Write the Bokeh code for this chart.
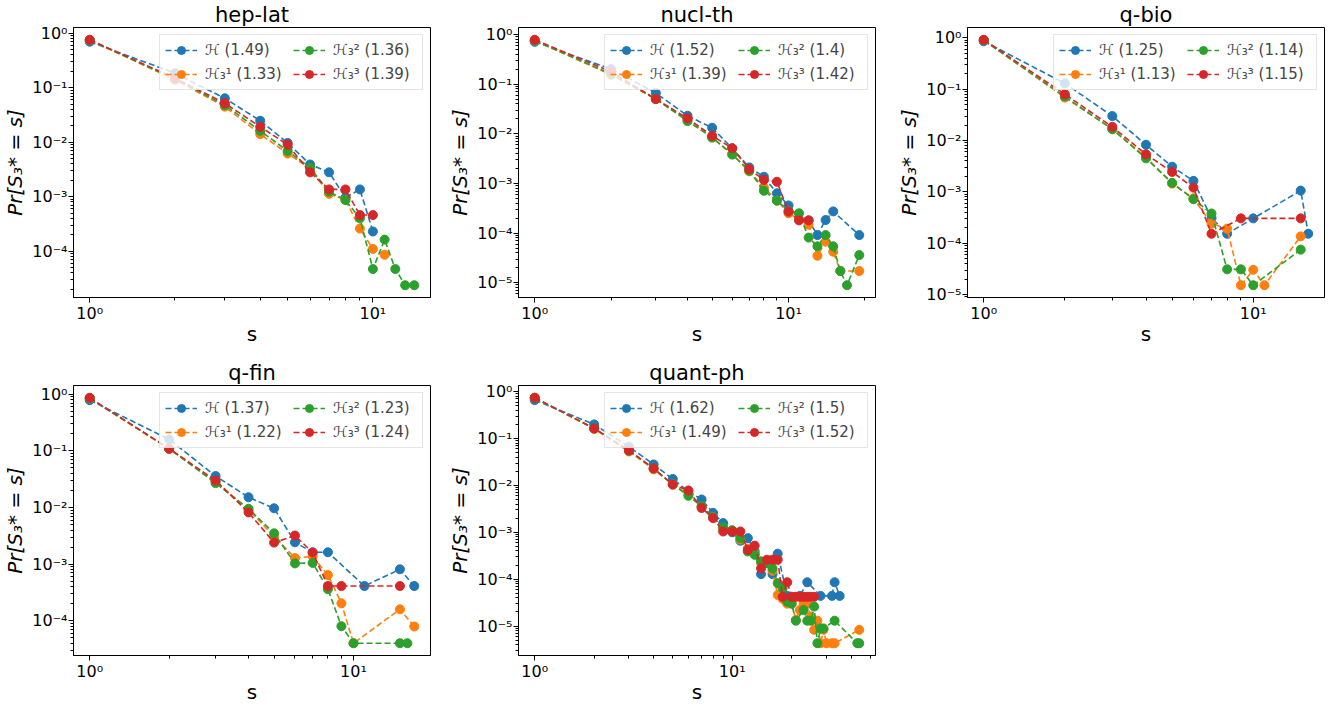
import math
from bokeh.plotting import figure
from bokeh.models import Range1d, FixedTicker, CustomJSTickFormatter, Legend, LegendItem
from bokeh.layouts import column, row
from bokeh.embed import file_html
from bokeh.resources import INLINE

# ---------------- data ----------------
TITLES = ["hep-lat", "nucl-th", "q-bio", "q-fin", "quant-ph"]
SERIES_NAMES = ["ℋ", "ℋ₃¹", "ℋ₃²", "ℋ₃³"]

HEP_LAT_SCORES = ["1.49", "1.33", "1.36", "1.39"]
HEP_LAT_S_H = [1, 2, 3, 4, 5, 6, 7, 8, 9, 10]
HEP_LAT_P_H = [0.70, 0.185, 0.064, 0.0248, 0.0097, 0.0039, 0.0028, 0.00096, 0.00136, 0.00023]
HEP_LAT_S_H1 = [1, 2, 3, 4, 5, 6, 7, 8, 9, 10, 11]
HEP_LAT_P_H1 = [0.75, 0.14, 0.045, 0.0141, 0.0062, 0.0033, 0.00113, 0.00088, 0.00026, 0.00011, 0.000086]
HEP_LAT_S_H2 = [1, 2, 3, 4, 5, 6, 7, 8, 9, 10, 11, 12, 13, 14]
HEP_LAT_P_H2 = [0.75, 0.145, 0.048, 0.0162, 0.0069, 0.0034, 0.00123, 0.00087, 0.0004, 0.000047, 0.000163, 0.000047, 0.0000237, 0.0000237]
HEP_LAT_S_H3 = [1, 2, 3, 4, 5, 6, 7, 8, 9, 10]
HEP_LAT_P_H3 = [0.76, 0.15, 0.052, 0.0192, 0.0090, 0.0028, 0.00136, 0.00136, 0.00046, 0.00046]

NUCL_TH_SCORES = ["1.52", "1.39", "1.4", "1.42"]
NUCL_TH_S_H = [1, 2, 3, 4, 5, 6, 7, 8, 9, 10, 11, 12, 13, 14, 15, 19]
NUCL_TH_P_H = [0.71, 0.2, 0.066, 0.023, 0.0132, 0.0051, 0.0021, 0.00136, 0.00063, 0.00036, 0.00019, 0.00018, 0.000091, 0.000183, 0.000273, 0.000091]
NUCL_TH_S_H1 = [1, 2, 3, 4, 5, 6, 7, 8, 9, 10, 11, 12, 13, 14, 15, 16, 19]
NUCL_TH_P_H1 = [0.75, 0.154, 0.05, 0.019, 0.0084, 0.0039, 0.00175, 0.00083, 0.00045, 0.00025, 0.00019, 0.000147, 0.000035, 0.000067, 0.000042, 0.0000172, 0.0000172]
NUCL_TH_S_H2 = [1, 2, 3, 4, 5, 6, 7, 8, 9, 10, 11, 12, 13, 14, 15, 16, 17, 19]
NUCL_TH_P_H2 = [0.75, 0.16, 0.05, 0.018, 0.0084, 0.0038, 0.0018, 0.00071, 0.00045, 0.00028, 0.00025, 0.000081, 0.000054, 0.000091, 0.000054, 0.0000172, 0.0000089, 0.000036]
NUCL_TH_S_H3 = [1, 2, 3, 4, 5, 6, 7, 8, 9, 10, 11, 12]
NUCL_TH_P_H3 = [0.78, 0.177, 0.05, 0.0204, 0.0091, 0.0051, 0.00194, 0.00117, 0.00108, 0.00027, 0.00018, 0.00018]

Q_BIO_SCORES = ["1.25", "1.13", "1.14", "1.15"]
Q_BIO_S_H = [1, 2, 3, 4, 5, 6, 7, 8, 10, 15, 16]
Q_BIO_P_H = [0.86, 0.13, 0.030, 0.0083, 0.0031, 0.00164, 0.00031, 0.000153, 0.000305, 0.00106, 0.000153]
Q_BIO_S_H1 = [1, 2, 3, 4, 5, 6, 7, 8, 9, 10, 11, 15]
Q_BIO_P_H1 = [0.9, 0.069, 0.0167, 0.0048, 0.00145, 0.00075, 0.00024, 0.000192, 0.0000152, 0.0000303, 0.0000152, 0.000136]
Q_BIO_S_H2 = [1, 2, 3, 4, 5, 6, 7, 8, 9, 10, 15]
Q_BIO_P_H2 = [0.9, 0.072, 0.0167, 0.0045, 0.0015, 0.00072, 0.00038, 0.000031, 0.000031, 0.0000152, 0.000075]
Q_BIO_S_H3 = [1, 2, 3, 4, 5, 6, 7, 9, 15]
Q_BIO_P_H3 = [0.92, 0.08, 0.0185, 0.0054, 0.00245, 0.00121, 0.000153, 0.000305, 0.000305]

Q_FIN_SCORES = ["1.37", "1.22", "1.23", "1.24"]
Q_FIN_S_H = [1, 2, 3, 4, 5, 6, 7, 8, 11, 15, 17]
Q_FIN_P_H = [0.79, 0.16, 0.036, 0.0152, 0.0097, 0.00243, 0.00162, 0.00162, 0.00041, 0.00081, 0.00041]
Q_FIN_S_H1 = [1, 2, 3, 4, 5, 6, 7, 8, 9, 10, 15, 17]
Q_FIN_P_H1 = [0.85, 0.108, 0.029, 0.0092, 0.0031, 0.00128, 0.00137, 0.00064, 0.000203, 0.00004, 0.000159, 0.000079]
Q_FIN_S_H2 = [1, 2, 3, 4, 5, 6, 7, 8, 9, 10, 15, 16]
Q_FIN_P_H2 = [0.85, 0.11, 0.027, 0.0095, 0.0035, 0.00103, 0.00105, 0.00036, 0.00008, 0.00004, 0.00004, 0.00004]
Q_FIN_S_H3 = [1, 2, 3, 4, 5, 6, 7, 8, 9, 15]
Q_FIN_P_H3 = [0.87, 0.11, 0.030, 0.0082, 0.0024, 0.0032, 0.0016, 0.00041, 0.00041, 0.00041]

QUANT_PH_SCORES = ["1.62", "1.49", "1.5", "1.52"]
QUANT_PH_S_H = [1, 2, 3, 4, 5, 6, 7, 8, 9, 10, 11, 12, 13, 14, 15, 16, 17, 19, 22, 24, 28, 32, 33, 35]
QUANT_PH_P_H = [0.66, 0.2, 0.067, 0.028, 0.0137, 0.0075, 0.005, 0.0026, 0.00157, 0.001, 0.00066, 0.00075, 0.00039,
                0.000128, 0.00024, 0.000128, 0.00035, 0.000044, 0.000044, 0.000086, 0.000044, 0.000044, 0.000086, 0.000044]
QUANT_PH_S_H1 = [1, 2, 3, 4, 5, 6, 7, 8, 9, 10, 11, 12, 13, 14, 15, 16, 17, 18, 19, 20, 21, 22, 23, 24, 25, 26, 27, 28, 29, 30, 32, 33, 44]
QUANT_PH_P_H1 = [0.74, 0.16, 0.053, 0.022, 0.0105, 0.0065, 0.0035, 0.0021, 0.0012, 0.0011, 0.0007, 0.00045, 0.00035,
                 0.00022, 0.00022, 0.00015, 0.000046, 0.000038, 0.00003, 0.00003, 0.0000135, 0.000022, 0.00003, 0.00003,
                 0.000016, 0.0000083, 0.000013, 0.0000043, 0.0000083, 0.0000043, 0.0000043, 0.0000043, 0.0000083]
QUANT_PH_S_H2 = [1, 2, 3, 4, 5, 6, 7, 8, 9, 10, 11, 12, 13, 14, 15, 16, 17, 18, 19, 20, 21, 23, 24, 25, 26, 27, 28, 29, 33, 43, 44]
QUANT_PH_P_H2 = [0.74, 0.165, 0.055, 0.023, 0.0105, 0.006, 0.0036, 0.0021, 0.00127, 0.0011, 0.00075, 0.00039, 0.00033,
                 0.00024, 0.00022, 0.00017, 0.000082, 0.000064, 0.000033, 0.00003, 0.000013, 0.000022, 0.000013, 0.000013,
                 0.000026, 0.0000043, 0.0000089, 0.0000089, 0.000013, 0.0000043, 0.0000043]
QUANT_PH_S_H3 = [1, 2, 3, 4, 5, 6, 7, 8, 9, 10, 11, 12, 13, 14, 15, 16, 17, 18, 19, 20, 21, 22, 23, 24, 25, 26]
QUANT_PH_P_H3 = [0.74, 0.164, 0.056, 0.023, 0.0104, 0.0078, 0.0033, 0.002, 0.00104, 0.00104, 0.00104, 0.00042, 0.00052,
                 0.00017, 0.00026, 0.00026, 0.00026, 0.000042, 0.000086, 0.000042, 0.000042, 0.000042, 0.000042, 0.000042,
                 0.000042, 0.000042]

# ---------------- styling ----------------
FONT = "DejaVu Sans"
COLORS = ["#1f77b4", "#ff7f0e", "#2ca02c", "#d62728"]

SUP_JS = """
const sup = {"0":"\u2070","1":"\u00b9","2":"\u00b2","3":"\u00b3","4":"\u2074","5":"\u2075",
             "6":"\u2076","7":"\u2077","8":"\u2078","9":"\u2079","-":"\u207b"};
const e = Math.round(Math.log10(tick));
return "10" + String(e).split("").map(c => sup[c]).join("");
"""


def panel(title, series, scores, left, right, bottom):
    xs_all = [s for ss, _ in series for s in ss]
    ys_all = [v for _, pp in series for v in pp]
    lx0, lx1 = math.log10(min(xs_all)), math.log10(max(xs_all))
    ly0, ly1 = math.log10(min(ys_all)), math.log10(max(ys_all))
    mx = 0.05 * (lx1 - lx0)
    my = 0.05 * (ly1 - ly0)
    p = figure(frame_width=357, frame_height=270,
               x_axis_type="log", y_axis_type="log",
               x_range=Range1d(10 ** (lx0 - mx), 10 ** (lx1 + mx)),
               y_range=Range1d(10 ** (ly0 - my), 10 ** (ly1 + my)),
               output_backend="svg", toolbar_location=None,
               min_border_left=left, min_border_right=right,
               min_border_bottom=bottom, min_border_top=0)
    p.title.text = title
    p.title.align = "center"
    p.title.text_font = FONT
    p.title.text_font_size = "21px"
    p.title.text_font_style = "normal"
    p.title.text_color = "black"
    p.title.standoff = 1
    p.outline_line_color = "black"
    p.outline_line_width = 1
    p.xgrid.grid_line_color = None
    p.ygrid.grid_line_color = None

    xmaj = [1, 10]
    xmin = [m * 10 ** k for k in (0, 1) for m in range(2, 10)]
    ymaj = [10 ** k for k in range(-7, 1)]
    ymin = [m * 10 ** k for k in range(-7, 1) for m in range(2, 10)]
    p.xaxis.ticker = FixedTicker(ticks=xmaj, minor_ticks=xmin)
    p.yaxis.ticker = FixedTicker(ticks=ymaj, minor_ticks=ymin)
    fmt = CustomJSTickFormatter(code=SUP_JS)
    p.xaxis.formatter = fmt
    p.yaxis.formatter = fmt
    for ax in (p.xaxis, p.yaxis):
        ax.major_label_text_font = FONT
        ax.major_label_text_font_size = "16px"
        ax.major_label_text_color = "black"
        ax.axis_line_color = "black"
        ax.major_tick_line_color = "black"
        ax.minor_tick_line_color = "black"
        ax.major_tick_out = 5
        ax.major_tick_in = 0
        ax.minor_tick_out = 3
        ax.minor_tick_in = 0
        ax.major_label_standoff = 1
        ax.axis_label_text_font = FONT
        ax.axis_label_text_font_size = "20px"
        ax.axis_label_text_color = "black"
        ax.axis_label_standoff = -4
    p.xaxis.axis_label = "s"
    p.xaxis.axis_label_text_font_style = "normal"
    p.yaxis.axis_label = "Pr[S₃* = s]"
    p.yaxis.axis_label_text_font_style = "italic"
    p.yaxis.axis_label_standoff = 2

    items = []
    for i, (ss, pp) in enumerate(series):
        r_line = p.line(ss, pp, line_color=COLORS[i], line_width=1.6, line_dash="6 3")
        r_pts = p.scatter(ss, pp, size=9, fill_color=COLORS[i], line_color=COLORS[i])
        items.append(LegendItem(label=f"{SERIES_NAMES[i]} ({scores[i]})", renderers=[r_line, r_pts]))
    legend = Legend(items=items, location="top_right", nrows=2, orientation="vertical",
                    label_text_font=FONT, label_text_font_size="15px",
                    glyph_width=32, glyph_height=20, label_standoff=8, label_width=84,
                    spacing=4, padding=5, margin=7,
                    border_line_color="#cccccc", border_line_width=1,
                    background_fill_color="white", background_fill_alpha=0.8)
    p.add_layout(legend)
    return p


p1 = panel(TITLES[0], [(HEP_LAT_S_H, HEP_LAT_P_H), (HEP_LAT_S_H1, HEP_LAT_P_H1),
                       (HEP_LAT_S_H2, HEP_LAT_P_H2), (HEP_LAT_S_H3, HEP_LAT_P_H3)],
           HEP_LAT_SCORES, 70, 15, 61)
p2 = panel(TITLES[1], [(NUCL_TH_S_H, NUCL_TH_P_H), (NUCL_TH_S_H1, NUCL_TH_P_H1),
                       (NUCL_TH_S_H2, NUCL_TH_P_H2), (NUCL_TH_S_H3, NUCL_TH_P_H3)],
           NUCL_TH_SCORES, 70, 19, 61)
p3 = panel(TITLES[2], [(Q_BIO_S_H, Q_BIO_P_H), (Q_BIO_S_H1, Q_BIO_P_H1),
                       (Q_BIO_S_H2, Q_BIO_P_H2), (Q_BIO_S_H3, Q_BIO_P_H3)],
           Q_BIO_SCORES, 70, 6, 61)
p4 = panel(TITLES[3], [(Q_FIN_S_H, Q_FIN_P_H), (Q_FIN_S_H1, Q_FIN_P_H1),
                       (Q_FIN_S_H2, Q_FIN_P_H2), (Q_FIN_S_H3, Q_FIN_P_H3)],
           Q_FIN_SCORES, 70, 15, 0)
p5 = panel(TITLES[4], [(QUANT_PH_S_H, QUANT_PH_P_H), (QUANT_PH_S_H1, QUANT_PH_P_H1),
                       (QUANT_PH_S_H2, QUANT_PH_P_H2), (QUANT_PH_S_H3, QUANT_PH_P_H3)],
           QUANT_PH_SCORES, 70, 19, 0)

layout = column(row(p1, p2, p3), row(p4, p5))
open("out.html", "w").write(file_html(layout, INLINE))
